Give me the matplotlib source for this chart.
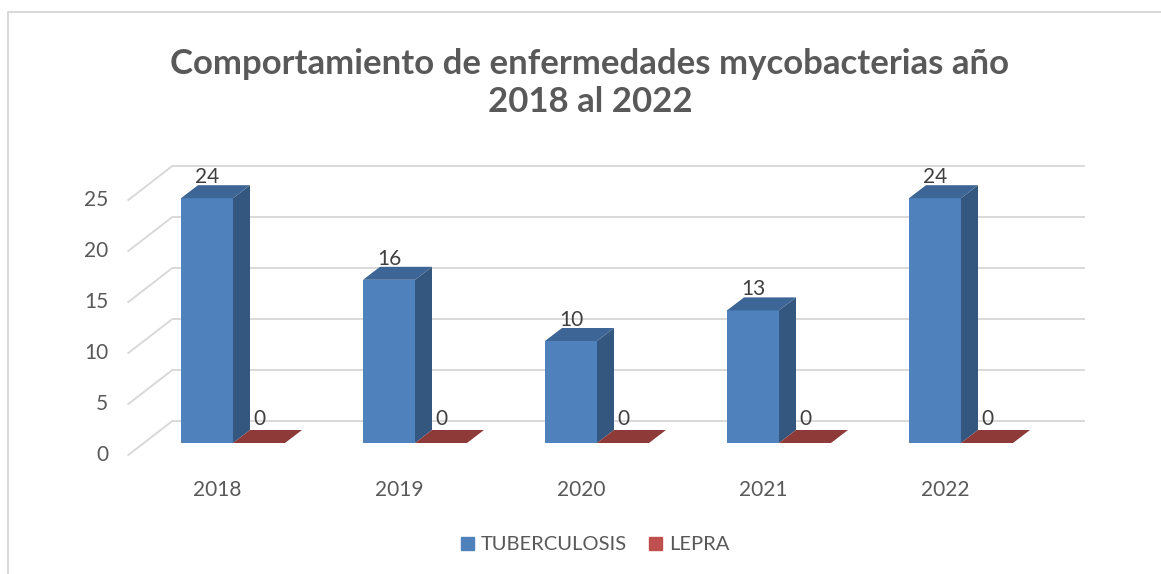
import numpy as np
import matplotlib.pyplot as plt
from matplotlib.patches import Polygon, Patch
from matplotlib.lines import Line2D

# data
years = ['2018', '2019', '2020', '2021', '2022']
tuberculosis = [24, 16, 10, 13, 24]
lepra = [0, 0, 0, 0, 0]
y_ticks = [0, 5, 10, 15, 20, 25]
series_names = ['TUBERCULOSIS', 'LEPRA']
title = 'Comportamiento de enfermedades mycobacterias año\n2018 al 2022'

plt.rcParams['font.family'] = ['Lato', 'DejaVu Sans']

W, H = 1161, 574
fig = plt.figure(figsize=(W / 100, H / 100), dpi=100)
ax = fig.add_axes([0, 0, 1, 1])
ax.set_axis_off()

# fake 3d column chart: pixel scale of the bar plane
PX_CAT = 182.0
PX_VAL = 10.2
X0_PX = 233.0          # blue/red boundary of first category
Y0_PX = H - 443.0      # value 0 on bar plane
ax.set_xlim(-X0_PX / PX_CAT, (W - X0_PX) / PX_CAT)
ax.set_ylim(-Y0_PX / PX_VAL, (H - Y0_PX) / PX_VAL)


def shift(px_dx, px_dy):
    return px_dx / PX_CAT, px_dy / PX_VAL


front_dx, front_dy = shift(-15.5, -12)   # front plane (axis labels)
back_dx, back_dy = shift(28.5, 22)       # back wall
deep_dx, deep_dy = shift(17, 13)         # bar depth
bar_w = 52 / PX_CAT
wall_left = -0.49
wall_right = 4.525

grid_c = '#d9d9d9'
txt_c = '#595959'

# back wall grid + left wall diagonals
for t in y_ticks:
    ax.plot([wall_left + back_dx, wall_right + back_dx], [t + back_dy, t + back_dy],
            color=grid_c, lw=1.4, zorder=1, solid_capstyle='butt')
    ax.plot([wall_left + front_dx, wall_left + back_dx], [t + front_dy, t + back_dy],
            color=grid_c, lw=1.4, zorder=1)
    ax.text(wall_left + front_dx - 20 / PX_CAT, t + front_dy, str(t),
            ha='right', va='center', fontsize=15, color=txt_c)

x = np.arange(len(years))


def bar3d(left, val, front, side, top):
    ax.bar(left, val, width=bar_w, align='edge', color=front, zorder=3, lw=0)
    r = left + bar_w
    ax.add_patch(Polygon([(r, 0), (r, val), (r + deep_dx, val + deep_dy), (r + deep_dx, deep_dy)],
                         closed=True, fc=side, ec='none', zorder=3))
    ax.add_patch(Polygon([(left, val), (r, val), (r + deep_dx, val + deep_dy), (left + deep_dx, val + deep_dy)],
                         closed=True, fc=top, ec='none', zorder=3))


for i in range(len(years)):
    bar3d(x[i] - bar_w, tuberculosis[i], '#4f81bd', '#34577f', '#3d6595')
    bar3d(x[i], lepra[i], '#c0504d', '#8a3634', '#8e3a38')
    ax.text(x[i] - bar_w / 2, tuberculosis[i] + 1.1, str(tuberculosis[i]),
            ha='center', va='bottom', fontsize=15, color='#404040', zorder=4)
    ax.text(x[i] + bar_w / 2, lepra[i] + 1.4, str(lepra[i]),
            ha='center', va='bottom', fontsize=15, color='#404040', zorder=4)
    ax.text(x[i] + front_dx, front_dy - 3.4, years[i],
            ha='center', va='center', fontsize=15, color=txt_c)

fig.text(590 / W, 1 - 83 / H, title, ha='center', va='center', fontsize=25,
         fontweight='bold', color=txt_c, linespacing=1.25)

handles = [Patch(color='#4f81bd'), Patch(color='#c0504d')]
fig.legend(handles, series_names, loc='center', bbox_to_anchor=(595 / W, 1 - 545 / H),
           ncol=2, frameon=False, fontsize=14.5, handlelength=0.65, handleheight=0.65,
           handletextpad=0.35, columnspacing=1.1, labelcolor=txt_c)

# chart border (left and top visible)
fig.add_artist(Line2D([8 / W, 8 / W, 1], [0, 1 - 12 / H, 1 - 12 / H],
                      transform=fig.transFigure, color=grid_c, lw=1.5))

fig.savefig('out.png', dpi=100)
